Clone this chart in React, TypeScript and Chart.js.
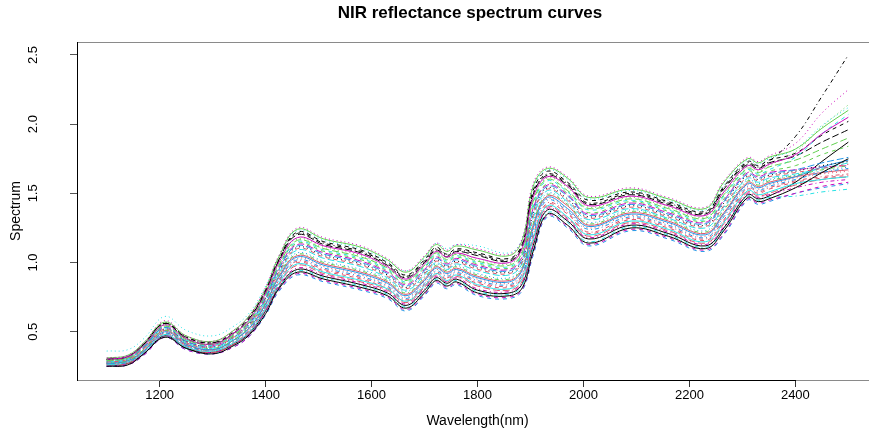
import React, { useEffect, useRef } from 'react';
import { Chart, registerables } from 'chart.js';

Chart.register(...registerables);

const wavelengths = [1100, 1140, 1170, 1210, 1250, 1300, 1340, 1370, 1400, 1425, 1460, 1510, 1580, 1630, 1665, 1700, 1722, 1742, 1760, 1800, 1860, 1885, 1905, 1932, 1970, 2010, 2090, 2160, 2230, 2265, 2310, 2330, 2350, 2400, 2450, 2500];

const xTicks = [1200, 1400, 1600, 1800, 2000, 2200, 2400];
const yTicks = [0.5, 1.0, 1.5, 2.0, 2.5];

// Spectrum curves (one array per sample, matplot column order)
const s00 = [0.25, 0.26, 0.34, 0.46, 0.38, 0.34, 0.40, 0.48, 0.63, 0.81, 0.93, 0.88, 0.82, 0.76, 0.67, 0.78, 0.87, 0.83, 0.86, 0.78, 0.76, 0.82, 1.08, 1.35, 1.27, 1.14, 1.25, 1.19, 1.10, 1.23, 1.47, 1.44, 1.46, 1.54, 1.65, 1.75];
const s01 = [0.28, 0.30, 0.38, 0.52, 0.42, 0.39, 0.46, 0.55, 0.73, 0.93, 1.10, 1.04, 0.98, 0.90, 0.81, 0.92, 1.01, 0.96, 1.00, 0.95, 0.92, 1.01, 1.34, 1.53, 1.45, 1.32, 1.40, 1.33, 1.26, 1.41, 1.62, 1.59, 1.62, 1.65, 1.68, 1.71];
const s02 = [0.30, 0.31, 0.40, 0.55, 0.45, 0.41, 0.48, 0.59, 0.77, 0.99, 1.17, 1.11, 1.05, 0.96, 0.87, 0.98, 1.07, 1.03, 1.06, 1.02, 0.99, 1.09, 1.45, 1.61, 1.54, 1.40, 1.47, 1.40, 1.33, 1.50, 1.69, 1.66, 1.70, 1.80, 1.98, 2.14];
const s03 = [0.27, 0.28, 0.36, 0.49, 0.40, 0.37, 0.43, 0.52, 0.68, 0.87, 1.02, 0.96, 0.90, 0.83, 0.74, 0.85, 0.94, 0.90, 0.93, 0.87, 0.84, 0.92, 1.22, 1.45, 1.37, 1.24, 1.33, 1.27, 1.18, 1.33, 1.55, 1.52, 1.55, 1.60, 1.65, 1.68];
const s04 = [0.28, 0.30, 0.38, 0.52, 0.42, 0.38, 0.45, 0.55, 0.72, 0.92, 1.09, 1.03, 0.97, 0.89, 0.80, 0.91, 1.00, 0.95, 0.99, 0.94, 0.91, 1.00, 1.32, 1.52, 1.44, 1.31, 1.39, 1.32, 1.25, 1.40, 1.61, 1.58, 1.61, 1.64, 1.68, 1.72];
const s05 = [0.30, 0.32, 0.40, 0.55, 0.45, 0.41, 0.49, 0.59, 0.78, 1.00, 1.18, 1.12, 1.06, 0.97, 0.88, 0.99, 1.08, 1.04, 1.07, 1.03, 1.00, 1.11, 1.47, 1.62, 1.55, 1.41, 1.48, 1.41, 1.34, 1.51, 1.70, 1.67, 1.71, 1.78, 1.93, 2.05];
const s06 = [0.30, 0.32, 0.41, 0.56, 0.46, 0.42, 0.50, 0.61, 0.80, 1.02, 1.22, 1.15, 1.09, 1.00, 0.91, 1.02, 1.11, 1.06, 1.10, 1.07, 1.03, 1.14, 1.52, 1.66, 1.58, 1.45, 1.51, 1.44, 1.37, 1.55, 1.73, 1.70, 1.74, 1.79, 1.92, 2.02];
const s07 = [0.27, 0.28, 0.36, 0.50, 0.41, 0.37, 0.43, 0.52, 0.69, 0.88, 1.03, 0.97, 0.91, 0.84, 0.75, 0.86, 0.95, 0.91, 0.94, 0.88, 0.85, 0.93, 1.23, 1.46, 1.38, 1.25, 1.34, 1.28, 1.19, 1.34, 1.56, 1.53, 1.56, 1.61, 1.64, 1.66];
const s08 = [0.27, 0.29, 0.37, 0.51, 0.42, 0.38, 0.44, 0.54, 0.71, 0.91, 1.06, 1.00, 0.94, 0.87, 0.78, 0.89, 0.98, 0.94, 0.97, 0.91, 0.88, 0.97, 1.28, 1.49, 1.42, 1.28, 1.37, 1.31, 1.22, 1.38, 1.59, 1.56, 1.59, 1.63, 1.67, 1.70];
const s09 = [0.28, 0.30, 0.39, 0.53, 0.43, 0.39, 0.46, 0.56, 0.74, 0.95, 1.12, 1.06, 1.00, 0.92, 0.83, 0.94, 1.03, 0.98, 1.02, 0.97, 0.94, 1.03, 1.37, 1.55, 1.48, 1.34, 1.42, 1.35, 1.28, 1.44, 1.64, 1.61, 1.64, 1.67, 1.72, 1.76];
const s10 = [0.26, 0.28, 0.35, 0.48, 0.39, 0.36, 0.42, 0.50, 0.67, 0.85, 0.99, 0.93, 0.87, 0.81, 0.72, 0.83, 0.92, 0.87, 0.91, 0.84, 0.81, 0.89, 1.17, 1.41, 1.33, 1.20, 1.30, 1.24, 1.15, 1.29, 1.52, 1.49, 1.51, 1.57, 1.60, 1.62];
const s11 = [0.25, 0.26, 0.33, 0.46, 0.37, 0.34, 0.39, 0.47, 0.63, 0.80, 0.92, 0.87, 0.81, 0.75, 0.66, 0.77, 0.86, 0.82, 0.85, 0.77, 0.75, 0.81, 1.07, 1.34, 1.26, 1.13, 1.24, 1.18, 1.09, 1.21, 1.46, 1.43, 1.45, 1.50, 1.55, 1.58];
const s12 = [0.28, 0.30, 0.38, 0.52, 0.43, 0.39, 0.46, 0.56, 0.74, 0.94, 1.11, 1.05, 0.99, 0.91, 0.82, 0.93, 1.02, 0.97, 1.01, 0.96, 0.93, 1.02, 1.35, 1.54, 1.46, 1.33, 1.41, 1.34, 1.27, 1.43, 1.63, 1.60, 1.63, 1.66, 1.70, 1.73];
const s13 = [0.26, 0.28, 0.36, 0.49, 0.40, 0.36, 0.42, 0.51, 0.68, 0.87, 1.01, 0.95, 0.89, 0.82, 0.73, 0.84, 0.93, 0.89, 0.92, 0.86, 0.83, 0.91, 1.20, 1.43, 1.36, 1.22, 1.32, 1.26, 1.17, 1.31, 1.54, 1.51, 1.54, 1.59, 1.62, 1.64];
const s14 = [0.29, 0.31, 0.40, 0.54, 0.44, 0.41, 0.48, 0.58, 0.77, 0.98, 1.16, 1.10, 1.04, 0.96, 0.87, 0.98, 1.07, 1.02, 1.06, 1.01, 0.98, 1.08, 1.44, 1.60, 1.52, 1.39, 1.46, 1.39, 1.32, 1.49, 1.68, 1.65, 1.69, 1.74, 1.82, 1.90];
const s15 = [0.27, 0.29, 0.36, 0.50, 0.41, 0.37, 0.44, 0.53, 0.70, 0.89, 1.04, 0.98, 0.92, 0.85, 0.76, 0.87, 0.96, 0.92, 0.95, 0.89, 0.86, 0.95, 1.25, 1.47, 1.39, 1.26, 1.35, 1.29, 1.20, 1.35, 1.57, 1.54, 1.57, 1.62, 1.69, 1.74];
const s16 = [0.29, 0.31, 0.39, 0.54, 0.44, 0.40, 0.48, 0.58, 0.76, 0.97, 1.15, 1.09, 1.03, 0.95, 0.86, 0.97, 1.06, 1.01, 1.05, 1.00, 0.97, 1.07, 1.42, 1.59, 1.51, 1.38, 1.45, 1.38, 1.31, 1.48, 1.67, 1.64, 1.67, 1.76, 1.93, 2.07];
const s17 = [0.31, 0.33, 0.42, 0.58, 0.47, 0.43, 0.51, 0.62, 0.82, 1.05, 1.25, 1.18, 1.12, 1.03, 0.94, 1.05, 1.14, 1.09, 1.13, 1.10, 1.06, 1.18, 1.57, 1.69, 1.62, 1.48, 1.54, 1.47, 1.40, 1.59, 1.76, 1.73, 1.77, 1.86, 2.08, 2.25];
const s18 = [0.30, 0.32, 0.41, 0.56, 0.46, 0.42, 0.49, 0.60, 0.79, 1.02, 1.21, 1.14, 1.08, 0.99, 0.90, 1.01, 1.10, 1.05, 1.09, 1.06, 1.02, 1.13, 1.50, 1.64, 1.57, 1.43, 1.50, 1.43, 1.36, 1.54, 1.72, 1.69, 1.73, 1.91, 2.20, 2.50];
const s19 = [0.26, 0.27, 0.35, 0.48, 0.39, 0.35, 0.41, 0.50, 0.66, 0.84, 0.98, 0.92, 0.86, 0.80, 0.71, 0.82, 0.91, 0.86, 0.90, 0.83, 0.80, 0.87, 1.15, 1.40, 1.32, 1.19, 1.29, 1.23, 1.14, 1.28, 1.51, 1.48, 1.50, 1.56, 1.60, 1.62];
const s20 = [0.31, 0.33, 0.42, 0.57, 0.47, 0.43, 0.51, 0.62, 0.81, 1.04, 1.24, 1.17, 1.11, 1.02, 0.93, 1.04, 1.13, 1.08, 1.12, 1.09, 1.05, 1.17, 1.55, 1.68, 1.61, 1.47, 1.53, 1.46, 1.39, 1.58, 1.75, 1.72, 1.76, 1.82, 1.97, 2.10];
const s21 = [0.25, 0.26, 0.33, 0.46, 0.37, 0.34, 0.39, 0.47, 0.62, 0.79, 0.91, 0.86, 0.80, 0.74, 0.65, 0.76, 0.85, 0.81, 0.84, 0.76, 0.74, 0.80, 1.05, 1.33, 1.25, 1.12, 1.23, 1.17, 1.08, 1.20, 1.45, 1.42, 1.44, 1.50, 1.54, 1.57];
const s22 = [0.36, 0.37, 0.45, 0.61, 0.51, 0.47, 0.54, 0.64, 0.83, 1.04, 1.23, 1.16, 1.10, 1.01, 0.94, 1.03, 1.14, 1.10, 1.13, 1.12, 1.07, 1.18, 1.54, 1.67, 1.60, 1.46, 1.52, 1.45, 1.38, 1.56, 1.74, 1.71, 1.75, 1.82, 1.99, 2.12];
const s23 = [0.26, 0.27, 0.34, 0.47, 0.39, 0.35, 0.41, 0.49, 0.65, 0.83, 0.96, 0.91, 0.85, 0.79, 0.70, 0.81, 0.90, 0.86, 0.89, 0.81, 0.79, 0.86, 1.13, 1.39, 1.31, 1.18, 1.28, 1.22, 1.13, 1.26, 1.50, 1.47, 1.49, 1.54, 1.58, 1.60];
const s24 = [0.30, 0.32, 0.41, 0.56, 0.45, 0.41, 0.49, 0.60, 0.79, 1.01, 1.20, 1.13, 1.07, 0.98, 0.89, 1.00, 1.09, 1.04, 1.08, 1.05, 1.01, 1.12, 1.49, 1.63, 1.56, 1.42, 1.49, 1.42, 1.35, 1.53, 1.71, 1.68, 1.72, 1.77, 1.87, 1.96];
const s25 = [0.27, 0.29, 0.37, 0.51, 0.41, 0.37, 0.44, 0.53, 0.70, 0.90, 1.05, 0.99, 0.93, 0.86, 0.77, 0.88, 0.97, 0.93, 0.96, 0.90, 0.87, 0.96, 1.27, 1.48, 1.41, 1.27, 1.36, 1.30, 1.21, 1.36, 1.58, 1.55, 1.58, 1.62, 1.65, 1.67];
const s26 = [0.29, 0.31, 0.39, 0.54, 0.44, 0.40, 0.47, 0.57, 0.76, 0.97, 1.14, 1.08, 1.02, 0.94, 0.85, 0.96, 1.05, 1.00, 1.04, 0.99, 0.96, 1.06, 1.40, 1.57, 1.50, 1.36, 1.44, 1.37, 1.30, 1.46, 1.66, 1.63, 1.66, 1.70, 1.78, 1.84];
const s27 = [0.28, 0.29, 0.37, 0.51, 0.42, 0.38, 0.45, 0.54, 0.72, 0.92, 1.07, 1.01, 0.95, 0.88, 0.79, 0.90, 0.99, 0.95, 0.98, 0.92, 0.89, 0.98, 1.30, 1.50, 1.43, 1.29, 1.38, 1.32, 1.23, 1.39, 1.60, 1.57, 1.60, 1.63, 1.66, 1.69];
const s28 = [0.25, 0.27, 0.34, 0.47, 0.38, 0.34, 0.40, 0.48, 0.64, 0.82, 0.94, 0.89, 0.83, 0.77, 0.68, 0.79, 0.88, 0.84, 0.87, 0.79, 0.77, 0.84, 1.10, 1.36, 1.29, 1.15, 1.26, 1.20, 1.11, 1.24, 1.48, 1.45, 1.47, 1.48, 1.51, 1.53];
const s29 = [0.29, 0.31, 0.39, 0.53, 0.43, 0.40, 0.47, 0.57, 0.75, 0.96, 1.13, 1.07, 1.01, 0.93, 0.84, 0.95, 1.04, 0.99, 1.03, 0.98, 0.95, 1.05, 1.39, 1.56, 1.49, 1.35, 1.43, 1.36, 1.29, 1.45, 1.65, 1.62, 1.65, 1.67, 1.69, 1.70];
const s30 = [0.25, 0.27, 0.34, 0.47, 0.38, 0.35, 0.41, 0.49, 0.65, 0.82, 0.95, 0.90, 0.84, 0.78, 0.69, 0.80, 0.89, 0.85, 0.88, 0.80, 0.78, 0.85, 1.12, 1.38, 1.30, 1.17, 1.27, 1.21, 1.12, 1.25, 1.49, 1.46, 1.48, 1.58, 1.73, 1.87];
const s31 = [0.26, 0.28, 0.35, 0.49, 0.40, 0.36, 0.42, 0.51, 0.67, 0.86, 1.00, 0.94, 0.88, 0.81, 0.72, 0.83, 0.92, 0.88, 0.91, 0.85, 0.82, 0.90, 1.18, 1.42, 1.35, 1.21, 1.31, 1.25, 1.16, 1.30, 1.53, 1.50, 1.53, 1.58, 1.61, 1.63];

const seriesList = [s00, s01, s02, s03, s04, s05, s06, s07, s08, s09, s10, s11, s12, s13, s14, s15, s16, s17, s18, s19, s20, s21, s22, s23, s24, s25, s26, s27, s28, s29, s30, s31];

// R matplot defaults: col = 1:6, lty = 1:5
const palette = ['#000000', '#DF536B', '#61D04F', '#2297E6', '#28E2E5', '#CD0BBC'];
const dashes: number[][] = [[], [4, 4], [1, 3], [1, 3, 4, 3], [7, 3]];

const FONT = '"Liberation Sans", Arial, Helvetica, sans-serif';

const framePlugin = {
  id: 'rframe',
  afterDraw(chart: any) {
    const { ctx, chartArea: a, scales } = chart;
    const xs = scales.x;
    ctx.save();
    ctx.setLineDash([]);
    ctx.lineWidth = 1;
    ctx.strokeStyle = '#8a8a8a';
    ctx.strokeRect(a.left + 0.5, a.top + 0.5, a.right - a.left, a.bottom - a.top);
    ctx.strokeStyle = '#000000';
    ctx.beginPath();
    ctx.moveTo(Math.round(xs.getPixelForValue(xTicks[0])), a.bottom + 0.5);
    ctx.lineTo(Math.round(xs.getPixelForValue(xTicks[xTicks.length - 1])) + 1, a.bottom + 0.5);
    ctx.moveTo(a.left + 0.5, a.top);
    ctx.lineTo(a.left + 0.5, a.bottom + 1);
    ctx.stroke();
    ctx.restore();
  },
};

export default function App() {
  const canvasRef = useRef<HTMLCanvasElement | null>(null);

  useEffect(() => {
    const canvas = canvasRef.current;
    if (!canvas) return;
    const datasets = seriesList.map((s, i) => ({
      label: 'sample ' + (i + 1),
      data: wavelengths.map((w, j) => ({ x: w, y: s[j] })),
      borderColor: palette[i % 6],
      borderWidth: 1,
      borderDash: dashes[i % 5],
      pointRadius: 0,
      fill: false,
      yAxisID: 'y',
      tension: 0.4,
    }));

    const chart = new Chart(canvas, {
      type: 'line',
      data: { datasets },
      options: {
        animation: false,
        responsive: false,
        devicePixelRatio: 1,
        events: [],
        layout: { padding: 0 },
        plugins: {
          legend: { display: false },
          tooltip: { enabled: false },
          title: {
            display: true,
            text: 'NIR reflectance spectrum curves',
            color: '#000',
            font: { family: FONT, size: 17, weight: 'bold' },
            padding: { top: 2.8, bottom: 18.8 },
          },
        },
        scales: {
          x: {
            type: 'linear',
            min: 1044,
            max: 2556,
            afterBuildTicks: (scale: any) => {
              scale.ticks = xTicks.map((v) => ({ value: v }));
            },
            afterFit: (scale: any) => {
              scale.height = 51;
            },
            border: { display: false },
            grid: { drawOnChartArea: false, drawTicks: true, tickLength: 7, color: '#333' },
            ticks: {
              color: '#000',
              font: { family: FONT, size: 13 },
              padding: 1,
              maxRotation: 0,
              minRotation: 0,
              callback: (v: any) => String(v),
            },
            title: {
              display: true,
              text: 'Wavelength(nm)',
              color: '#000',
              font: { family: FONT, size: 14 },
              padding: { top: 0, bottom: 1.6 },
            },
          },
          y: {
            type: 'linear',
            position: 'left',
            min: 0.1509,
            max: 2.5938,
            afterBuildTicks: (scale: any) => {
              scale.ticks = yTicks.map((v) => ({ value: v }));
            },
            afterFit: (scale: any) => {
              scale.width = 77;
            },
            border: { display: false },
            grid: { drawOnChartArea: false, drawTicks: true, tickLength: 7, color: '#555' },
            ticks: {
              color: '#000',
              font: { family: FONT, size: 13 },
              padding: 28,
              crossAlign: 'center',
              minRotation: 90,
              maxRotation: 90,
              callback: (v: any) => Number(v).toFixed(1),
            },
            title: {
              display: true,
              text: 'Spectrum',
              color: '#000',
              font: { family: FONT, size: 14 },
              padding: { top: 7.6, bottom: 0 },
            },
          },
          // empty right margin (the plot box runs past the picture's right edge)
          yRight: {
            type: 'linear',
            position: 'right',
            display: true,
            min: 0,
            max: 1,
            afterFit: (scale: any) => {
              scale.width = 62;
            },
            border: { display: false },
            grid: { display: false, drawTicks: false },
            ticks: { display: false },
          },
        },
      },
      plugins: [framePlugin],
    });

    return () => {
      chart.destroy();
    };
  }, []);

  return (
    <div
      style={{
        position: 'fixed',
        left: 0,
        top: 0,
        width: 869,
        height: 431,
        overflow: 'hidden',
        background: '#ffffff',
      }}
    >
      <canvas ref={canvasRef} width={940} height={431} style={{ display: 'block' }} />
    </div>
  );
}
